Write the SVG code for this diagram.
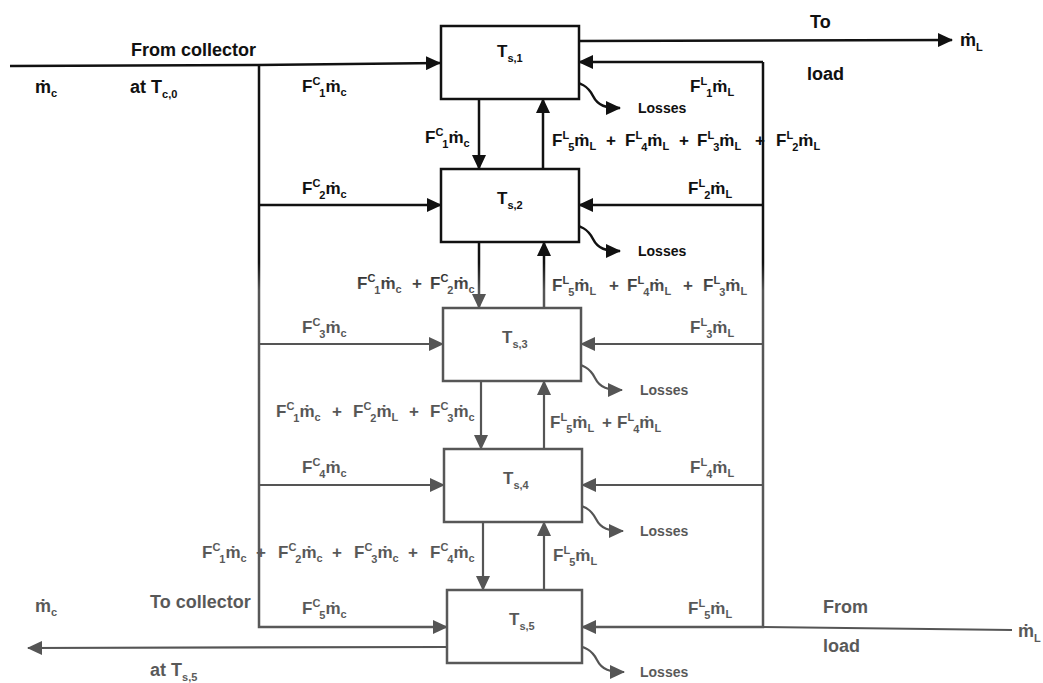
<svg xmlns="http://www.w3.org/2000/svg" width="1043" height="683" viewBox="0 0 1043 683">
<defs>
<linearGradient id="fade" gradientUnits="userSpaceOnUse" x1="0" y1="0" x2="0" y2="683">
<stop offset="0" stop-color="#111"/>
<stop offset="0.385" stop-color="#111"/>
<stop offset="0.425" stop-color="#555"/>
<stop offset="1" stop-color="#595959"/>
</linearGradient>
<marker id="ab" markerUnits="userSpaceOnUse" markerWidth="16" markerHeight="14" refX="14" refY="7" orient="auto"><path d="M0,0 L15,7 L0,14 Z" fill="#111"/></marker>
<marker id="ag" markerUnits="userSpaceOnUse" markerWidth="16" markerHeight="14" refX="14" refY="7" orient="auto"><path d="M0,0 L15,7 L0,14 Z" fill="#555"/></marker>
</defs>
<style>
text{font-family:"Liberation Sans","DejaVu Sans",Arial,sans-serif;font-weight:bold;fill:url(#fade)}
.t{font-size:17px}
.p{font-size:18px}
.s{font-size:11px}
.l{font-size:14px}
.box{fill:#fff;stroke:url(#fade);stroke-width:2.5}
.c{fill:none;stroke:url(#fade);stroke-width:2.5}
.cg{fill:none;stroke:#555;stroke-width:2.2}
.cb{fill:none;stroke:#111;stroke-width:2.5}
</style>

<g id="connectors">
<path class="cb" d="M10,66 L258,65 L440,63" marker-end="url(#ab)"/>
<path class="cb" d="M579,41 L952,40" marker-end="url(#ab)"/>
<path class="c" d="M259,64 L259,627 L447,627" marker-end="url(#ag)"/>
<path class="c" d="M763,62 L763,627 L582,627" marker-end="url(#ag)"/>
<path class="cg" d="M1012,630 L763,627"/>
<path class="cg" d="M447,647 L28,648" marker-end="url(#ag)"/>
<path class="cb" d="M763,62 L579,62" marker-end="url(#ab)"/>
<path class="cb" d="M259,205 L441,205" marker-end="url(#ab)"/>
<path class="cg" d="M259,344 L443,344" marker-end="url(#ag)"/>
<path class="cg" d="M259,485 L444,485" marker-end="url(#ag)"/>
<path class="cb" d="M763,205 L579,205" marker-end="url(#ab)"/>
<path class="cg" d="M763,344 L581,344" marker-end="url(#ag)"/>
<path class="cg" d="M763,485 L582,485" marker-end="url(#ag)"/>
<path class="cb" d="M479,99 L479,169" marker-end="url(#ab)"/>
<path class="cb" d="M543,169 L543,99" marker-end="url(#ab)"/>
<path class="c" d="M479,242 L479,308" marker-end="url(#ag)"/>
<path class="c" d="M544,308 L544,242" marker-end="url(#ab)"/>
<path class="cg" d="M481,381 L481,449" marker-end="url(#ag)"/>
<path class="cg" d="M544,449 L544,381" marker-end="url(#ag)"/>
<path class="cg" d="M483,522 L483,590" marker-end="url(#ag)"/>
<path class="cg" d="M544,590 L544,522" marker-end="url(#ag)"/>
<path class="cb" d="M563,82 C582,80 589,88 593,96 C598,106 606,108 620,108" marker-end="url(#ab)"/>
<path class="cb" d="M563,225 C582,223 589,231 593,239 C598,249 606,251 620,251" marker-end="url(#ab)"/>
<path class="cg" d="M565,364 C584,362 591,370 595,378 C600,388 608,390 622,390" marker-end="url(#ag)"/>
<path class="cg" d="M566,505 C585,503 592,511 596,519 C601,529 609,531 623,531" marker-end="url(#ag)"/>
<path class="cg" d="M567,646 C586,644 593,652 597,660 C602,670 610,672 624,672" marker-end="url(#ag)"/>
</g>

<g id="node-ts1"><rect class="box" x="441" y="26" width="138" height="73"/><text class="t" x="497" y="57">T<tspan class="s" dy="5">s,1</tspan></text></g>
<g id="node-ts2"><rect class="box" x="441" y="169" width="138" height="73"/><text class="t" x="497" y="204">T<tspan class="s" dy="5">s,2</tspan></text></g>
<g id="node-ts3"><rect class="box" x="443" y="308" width="138" height="73"/><text class="t" x="502" y="343">T<tspan class="s" dy="5">s,3</tspan></text></g>
<g id="node-ts4"><rect class="box" x="444" y="449" width="138" height="73"/><text class="t" x="503" y="484">T<tspan class="s" dy="5">s,4</tspan></text></g>
<g id="node-ts5"><rect class="box" x="447" y="590" width="135" height="73"/><text class="t" x="509" y="625">T<tspan class="s" dy="5">s,5</tspan></text></g>

<g id="labels">
<text class="p" x="131" y="56">From collector</text>
<text class="p" x="35" y="93">ṁ<tspan class="s" dy="4">c</tspan></text>
<text class="p" x="130" y="93">at T<tspan class="s" dy="5">c,0</tspan></text>
<text class="p" x="810" y="28">To</text>
<text class="p" x="807" y="80">load</text>
<text class="p" x="960" y="46">ṁ<tspan class="s" dy="5">L</tspan></text>
<text class="p" x="150" y="608">To collector</text>
<text class="p" x="35" y="612">ṁ<tspan class="s" dy="4">c</tspan></text>
<text class="p" x="150" y="676">at T<tspan class="s" dy="5">s,5</tspan></text>
<text class="p" x="823" y="613">From</text>
<text class="p" x="823" y="652">load</text>
<text class="p" x="1018" y="637">ṁ<tspan class="s" dy="5">L</tspan></text>

<text class="l" x="638" y="113">Losses</text>
<text class="l" x="638" y="256">Losses</text>
<text class="l" x="640" y="395">Losses</text>
<text class="l" x="640" y="536">Losses</text>
<text class="l" x="640" y="677">Losses</text>

<text class="t" x="302" y="92">F<tspan class="s" dy="-7">C</tspan><tspan class="s" dx="-1" dy="12">1</tspan><tspan dy="-5">ṁ</tspan><tspan class="s" dy="4">c</tspan></text>
<text class="t" x="690" y="92">F<tspan class="s" dy="-7">L</tspan><tspan class="s" dx="-1" dy="12">1</tspan><tspan dy="-5">ṁ</tspan><tspan class="s" dy="4">L</tspan></text>
<text class="t" x="302" y="194">F<tspan class="s" dy="-7">C</tspan><tspan class="s" dx="-1" dy="12">2</tspan><tspan dy="-5">ṁ</tspan><tspan class="s" dy="4">c</tspan></text>
<text class="t" x="688" y="194">F<tspan class="s" dy="-7">L</tspan><tspan class="s" dx="-1" dy="12">2</tspan><tspan dy="-5">ṁ</tspan><tspan class="s" dy="4">L</tspan></text>
<text class="t" x="302" y="333">F<tspan class="s" dy="-7">C</tspan><tspan class="s" dx="-1" dy="12">3</tspan><tspan dy="-5">ṁ</tspan><tspan class="s" dy="4">c</tspan></text>
<text class="t" x="690" y="333">F<tspan class="s" dy="-7">L</tspan><tspan class="s" dx="-1" dy="12">3</tspan><tspan dy="-5">ṁ</tspan><tspan class="s" dy="4">L</tspan></text>
<text class="t" x="302" y="473">F<tspan class="s" dy="-7">C</tspan><tspan class="s" dx="-1" dy="12">4</tspan><tspan dy="-5">ṁ</tspan><tspan class="s" dy="4">c</tspan></text>
<text class="t" x="690" y="473">F<tspan class="s" dy="-7">L</tspan><tspan class="s" dx="-1" dy="12">4</tspan><tspan dy="-5">ṁ</tspan><tspan class="s" dy="4">L</tspan></text>
<text class="t" x="302" y="614">F<tspan class="s" dy="-7">C</tspan><tspan class="s" dx="-1" dy="12">5</tspan><tspan dy="-5">ṁ</tspan><tspan class="s" dy="4">c</tspan></text>
<text class="t" x="688" y="614">F<tspan class="s" dy="-7">L</tspan><tspan class="s" dx="-1" dy="12">5</tspan><tspan dy="-5">ṁ</tspan><tspan class="s" dy="4">L</tspan></text>

<text class="t" x="425" y="143">F<tspan class="s" dy="-7">C</tspan><tspan class="s" dx="-1" dy="12">1</tspan><tspan dy="-5">ṁ</tspan><tspan class="s" dy="4">c</tspan></text>
<text class="t" x="552" y="146">F<tspan class="s" dy="-7">L</tspan><tspan class="s" dx="-1" dy="12">5</tspan><tspan dy="-5">ṁ</tspan><tspan class="s" dy="4">L</tspan></text>
<text class="t" x="606" y="146">+</text>
<text class="t" x="625" y="146">F<tspan class="s" dy="-7">L</tspan><tspan class="s" dx="-1" dy="12">4</tspan><tspan dy="-5">ṁ</tspan><tspan class="s" dy="4">L</tspan></text>
<text class="t" x="679" y="146">+</text>
<text class="t" x="697" y="146">F<tspan class="s" dy="-7">L</tspan><tspan class="s" dx="-1" dy="12">3</tspan><tspan dy="-5">ṁ</tspan><tspan class="s" dy="4">L</tspan></text>
<text class="t" x="755" y="146">+</text>
<text class="t" x="776" y="146">F<tspan class="s" dy="-7">L</tspan><tspan class="s" dx="-1" dy="12">2</tspan><tspan dy="-5">ṁ</tspan><tspan class="s" dy="4">L</tspan></text>

<text class="t" x="357" y="289">F<tspan class="s" dy="-7">C</tspan><tspan class="s" dx="-1" dy="12">1</tspan><tspan dy="-5">ṁ</tspan><tspan class="s" dy="4">c</tspan></text>
<text class="t" x="412" y="289">+</text>
<text class="t" x="430" y="289">F<tspan class="s" dy="-7">C</tspan><tspan class="s" dx="-1" dy="12">2</tspan><tspan dy="-5">ṁ</tspan><tspan class="s" dy="4">c</tspan></text>
<text class="t" x="552" y="291">F<tspan class="s" dy="-7">L</tspan><tspan class="s" dx="-1" dy="12">5</tspan><tspan dy="-5">ṁ</tspan><tspan class="s" dy="4">L</tspan></text>
<text class="t" x="609" y="291">+</text>
<text class="t" x="627" y="291">F<tspan class="s" dy="-7">L</tspan><tspan class="s" dx="-1" dy="12">4</tspan><tspan dy="-5">ṁ</tspan><tspan class="s" dy="4">L</tspan></text>
<text class="t" x="683" y="291">+</text>
<text class="t" x="703" y="291">F<tspan class="s" dy="-7">L</tspan><tspan class="s" dx="-1" dy="12">3</tspan><tspan dy="-5">ṁ</tspan><tspan class="s" dy="4">L</tspan></text>

<text class="t" x="276" y="417">F<tspan class="s" dy="-7">C</tspan><tspan class="s" dx="-1" dy="12">1</tspan><tspan dy="-5">ṁ</tspan><tspan class="s" dy="4">c</tspan></text>
<text class="t" x="332" y="417">+</text>
<text class="t" x="353" y="417">F<tspan class="s" dy="-7">C</tspan><tspan class="s" dx="-1" dy="12">2</tspan><tspan dy="-5">ṁ</tspan><tspan class="s" dy="4">L</tspan></text>
<text class="t" x="409" y="417">+</text>
<text class="t" x="430" y="417">F<tspan class="s" dy="-7">C</tspan><tspan class="s" dx="-1" dy="12">3</tspan><tspan dy="-5">ṁ</tspan><tspan class="s" dy="4">c</tspan></text>
<text class="t" x="550" y="428">F<tspan class="s" dy="-7">L</tspan><tspan class="s" dx="-1" dy="12">5</tspan><tspan dy="-5">ṁ</tspan><tspan class="s" dy="4">L</tspan></text>
<text class="t" x="602" y="428">+</text>
<text class="t" x="617" y="428">F<tspan class="s" dy="-7">L</tspan><tspan class="s" dx="-1" dy="12">4</tspan><tspan dy="-5">ṁ</tspan><tspan class="s" dy="4">L</tspan></text>

<text class="t" x="202" y="558">F<tspan class="s" dy="-7">C</tspan><tspan class="s" dx="-1" dy="12">1</tspan><tspan dy="-5">ṁ</tspan><tspan class="s" dy="4">c</tspan></text>
<text class="t" x="256" y="558">+</text>
<text class="t" x="278" y="558">F<tspan class="s" dy="-7">C</tspan><tspan class="s" dx="-1" dy="12">2</tspan><tspan dy="-5">ṁ</tspan><tspan class="s" dy="4">c</tspan></text>
<text class="t" x="332" y="558">+</text>
<text class="t" x="354" y="558">F<tspan class="s" dy="-7">C</tspan><tspan class="s" dx="-1" dy="12">3</tspan><tspan dy="-5">ṁ</tspan><tspan class="s" dy="4">c</tspan></text>
<text class="t" x="408" y="558">+</text>
<text class="t" x="430" y="558">F<tspan class="s" dy="-7">C</tspan><tspan class="s" dx="-1" dy="12">4</tspan><tspan dy="-5">ṁ</tspan><tspan class="s" dy="4">c</tspan></text>
<text class="t" x="553" y="561">F<tspan class="s" dy="-7">L</tspan><tspan class="s" dx="-1" dy="12">5</tspan><tspan dy="-5">ṁ</tspan><tspan class="s" dy="4">L</tspan></text>
</g>
</svg>
